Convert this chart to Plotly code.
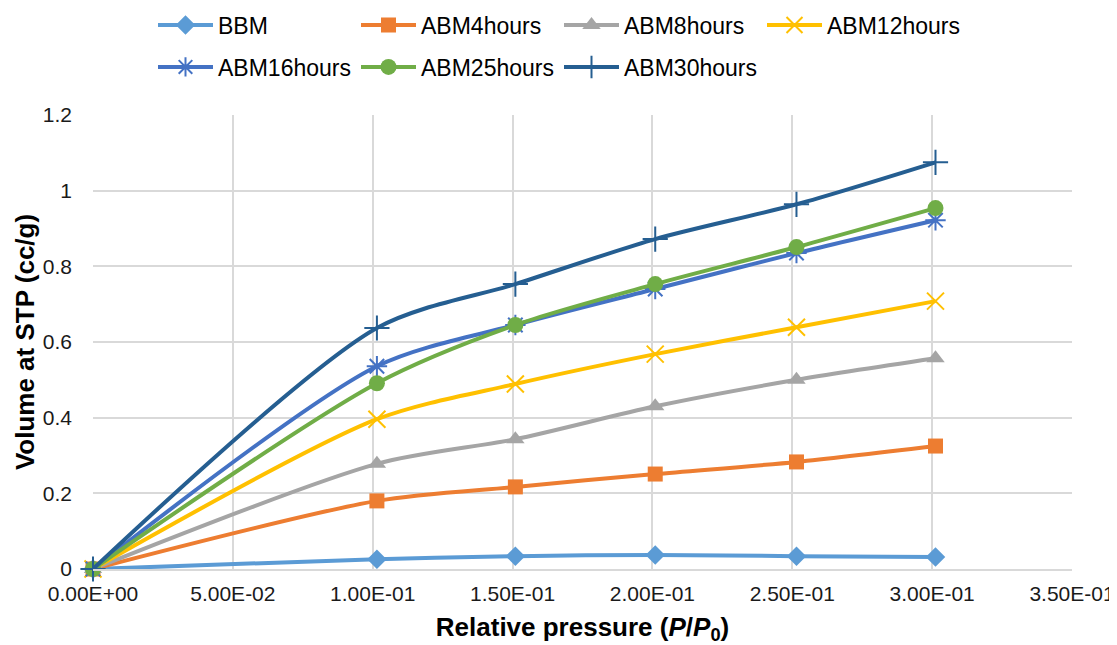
import plotly.graph_objects as go

x_vals = [0.0, 0.1015, 0.1510, 0.2010, 0.2515, 0.3012]

series_names = ["BBM", "ABM4hours", "ABM8hours", "ABM12hours",
                "ABM16hours", "ABM25hours", "ABM30hours"]

bbm = [0.0, 0.026, 0.034, 0.037, 0.034, 0.032]
abm4 = [0.0, 0.180, 0.217, 0.251, 0.283, 0.325]
abm8 = [0.0, 0.278, 0.343, 0.430, 0.500, 0.557]
abm12 = [0.0, 0.396, 0.489, 0.568, 0.639, 0.708]
abm16 = [0.0, 0.536, 0.645, 0.740, 0.835, 0.922]
abm25 = [0.0, 0.491, 0.645, 0.753, 0.851, 0.954]
abm30 = [0.0, 0.637, 0.753, 0.872, 0.964, 1.075]

x_tick_vals = [0.0, 0.05, 0.10, 0.15, 0.20, 0.25, 0.30, 0.35]
x_tick_text = ["0.00E+00", "5.00E-02", "1.00E-01", "1.50E-01",
               "2.00E-01", "2.50E-01", "3.00E-01", "3.50E-01"]

series_values = [bbm, abm4, abm8, abm12, abm16, abm25, abm30]
colors = ["#5B9BD5", "#ED7D31", "#A5A5A5", "#FFC000",
          "#4472C4", "#70AD47", "#255E91"]
symbols = ["diamond", "square", "triangle-up", "x-thin-open",
           "asterisk-open", "circle", "cross-thin-open"]
msizes = [15, 15, 16, 17, 17, 16, 18]
legends = ["legend", "legend", "legend", "legend",
           "legend2", "legend2", "legend2"]

FONT = "Liberation Sans, Arial, sans-serif"

# the page body has an 8px margin, so the figure is drawn 8px smaller
W, H = 1109, 637

fig = go.Figure()
for name, vals, col, sym, ms, lg in zip(series_names, series_values, colors,
                                       symbols, msizes, legends):
    open_sym = sym.endswith("open")
    fig.add_trace(go.Scatter(
        x=x_vals, y=vals, name=name, mode="lines+markers",
        line=dict(color=col, width=4, shape="spline", smoothing=0.8),
        marker=dict(symbol=sym, size=ms, color=col,
                    line=dict(color=col, width=2 if open_sym else 0)),
        cliponaxis=False, legend=lg,
    ))

legend_common = dict(
    orientation="h", xref="container", yref="container",
    xanchor="left", yanchor="middle",
    font=dict(family=FONT, size=23, color="#000000"),
    entrywidth=133, entrywidthmode="pixels",
    bgcolor="rgba(0,0,0,0)", itemwidth=55, tracegroupgap=0,
)

fig.update_layout(
    width=W, height=H,
    margin=dict(l=85, r=45, t=107, b=76, autoexpand=False),
    paper_bgcolor="white", plot_bgcolor="white",
    font=dict(family=FONT, size=21, color="#1a1a1a"),
    legend=dict(x=145 / W, y=1 - 17 / H, **legend_common),
    legend2=dict(x=145 / W, y=1 - 59 / H, **legend_common),
    xaxis=dict(
        range=[0, 0.35], tickvals=x_tick_vals, ticktext=x_tick_text,
        showgrid=True, gridcolor="#D9D9D9", gridwidth=1.5,
        zeroline=False, showline=True, linecolor="#D9D9D9", linewidth=1.5,
        ticks="", ticklabelstandoff=5, automargin=False,
        tickfont=dict(family=FONT, size=21, color="#1a1a1a"),
        title=dict(text="<b>Relative pressure (<i>P</i>/<i>P</i><sub>0</sub>)</b>",
                   font=dict(family=FONT, size=26, color="#000000"),
                   standoff=18),
    ),
    yaxis=dict(
        range=[0, 1.2], dtick=0.2,
        showgrid=True, gridcolor="#D9D9D9", gridwidth=1.5,
        zeroline=False, showline=False,
        ticks="", ticklabelstandoff=20, automargin=False,
        tickfont=dict(family=FONT, size=21, color="#1a1a1a"),
        title=dict(text="<b>Volume at STP (cc/g)</b>",
                   font=dict(family=FONT, size=26, color="#000000"),
                   standoff=0),
    ),
)

fig.write_html("out.html")
